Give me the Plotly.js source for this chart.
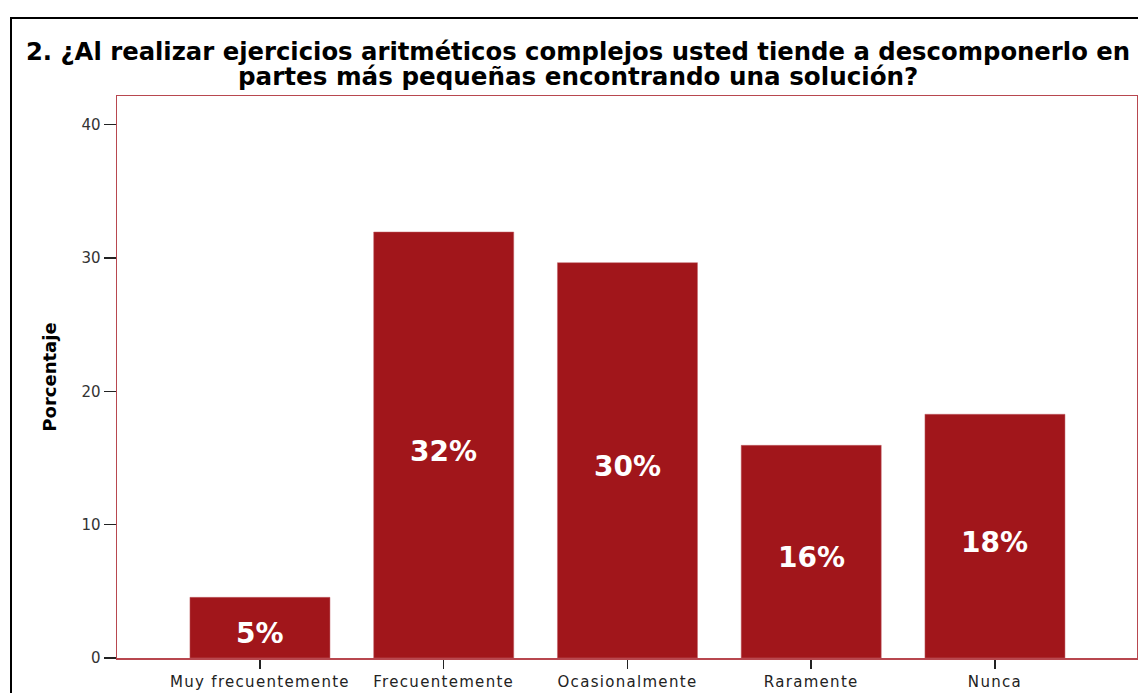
<!DOCTYPE html>
<html>
<head>
<meta charset="utf-8">
<script src="https://cdn.plot.ly/plotly-3.0.1.min.js"></script>
<style>
html,body{margin:0;padding:0;background:#fff;}
#chart{width:1138px;height:693px;}
.xtick text{letter-spacing:1.3px;}
</style>
</head>
<body>
<div id="chart"></div>
<script>
const categories = ["Muy frecuentemente", "Frecuentemente", "Ocasionalmente", "Raramente", "Nunca"];
const percentages = [4.55, 31.95, 29.65, 15.95, 18.28];
const barLabels = ["5%", "32%", "30%", "16%", "18%"];
const yTicks = [0, 10, 20, 30, 40];
const titleLine1 = "2. ¿Al realizar ejercicios aritméticos complejos usted tiende a descomponerlo en";
const titleLine2 = "partes más pequeñas encontrando una solución?";
const yTitle = "Porcentaje";

const FONT = "'DejaVu Sans', 'Liberation Sans', Arial, sans-serif";
const frameColor = "#b8474f";

const trace = {
  type: "bar",
  x: categories,
  y: percentages,
  marker: {color: "#a1161b", line: {color: "#c06066", width: 0.5}},
  hoverinfo: "none"
};

const labelAnnotations = categories.map((c, i) => ({
  x: c, y: percentages[i] / 2, xref: "x", yref: "y",
  text: barLabels[i], showarrow: false, yshift: -6,
  xanchor: "center", yanchor: "middle",
  font: {family: FONT, size: 28, color: "#ffffff", weight: "bold"}
}));

const layout = {
  width: 1138,
  height: 693,
  margin: {l: 117, r: 1, t: 96, b: 35},
  paper_bgcolor: "#ffffff",
  plot_bgcolor: "#ffffff",
  showlegend: false,
  bargap: 0.238,
  font: {family: FONT, color: "#000"},
  xaxis: {
    type: "category",
    range: [-0.778, 4.773],
    showline: true, linecolor: frameColor, linewidth: 1.5, mirror: true,
    ticks: "outside", ticklen: 9, tickwidth: 1.5, tickcolor: "#222",
    tickfont: {family: FONT, size: 15, color: "#222"},
    showgrid: false, zeroline: false, fixedrange: true
  },
  yaxis: {
    range: [0, 42.15],
    tickvals: yTicks,
    ticktext: yTicks.map(String),
    showline: true, linecolor: frameColor, linewidth: 1.5, mirror: true,
    ticks: "outside", ticklen: 12, tickwidth: 1.5, tickcolor: "#222",
    tickfont: {family: FONT, size: 15, color: "#333"},
    showgrid: false, zeroline: false, fixedrange: true,
    title: {text: yTitle, font: {family: FONT, size: 18, color: "#000", weight: "bold"}, standoff: 20}
  },
  title: {
    text: titleLine1,
    font: {family: FONT, size: 24.3, color: "#000", weight: "bold"},
    x: (578 - 117) / 1020, xanchor: "center", xref: "paper",
    y: 1 - 51/693, yanchor: "middle", yref: "container"
  },
  annotations: [{
    text: titleLine2,
    xref: "paper", yref: "paper",
    x: (578 - 117) / 1020, y: (658 - 77) / 562,
    xanchor: "center", yanchor: "middle",
    showarrow: false,
    font: {family: FONT, size: 24.6, color: "#000", weight: "bold"}
  }].concat(labelAnnotations),
  shapes: [{
    type: "rect", xref: "paper", yref: "paper",
    x0: (11 - 117) / 1020, x1: (1141 - 117) / 1020,
    y0: -0.2, y1: (658 - 18) / 562,
    line: {color: "#000", width: 2}, fillcolor: "rgba(0,0,0,0)", layer: "below"
  }]
};

Plotly.newPlot("chart", [trace], layout, {displayModeBar: false, staticPlot: true});
</script>
</body>
</html>
